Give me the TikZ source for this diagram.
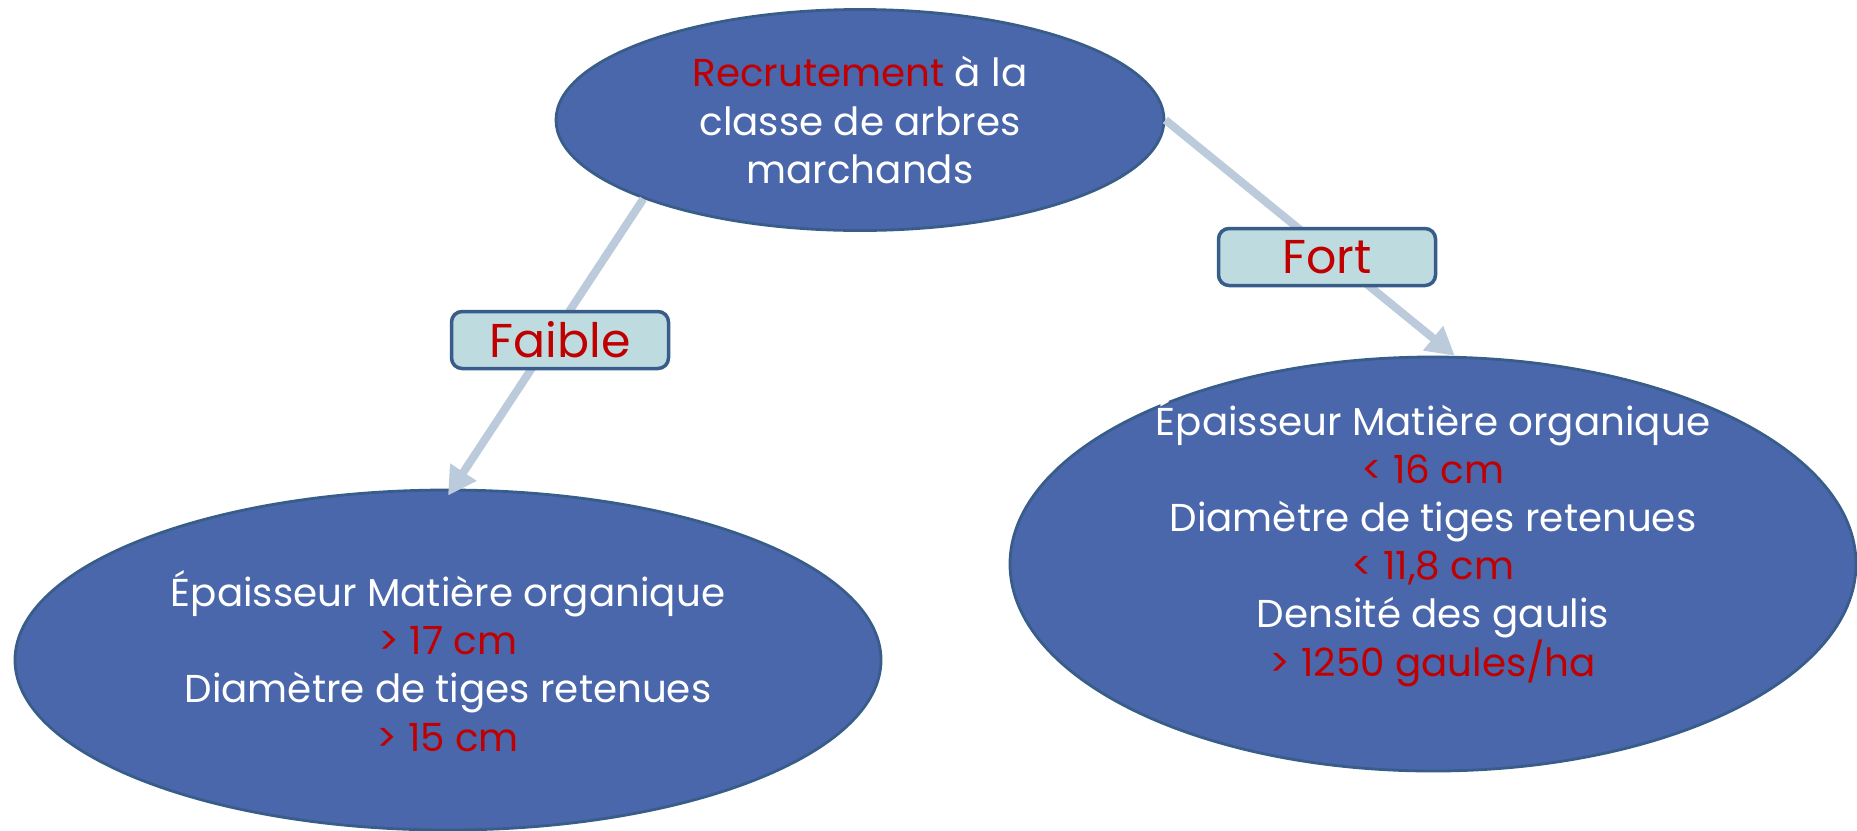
\documentclass[tikz,border=0pt]{standalone}
\usepackage{fontspec}
\setmainfont{Poppins}
\usepackage{xcolor}
\usepackage{tikz}
\usetikzlibrary{arrows.meta, calc, positioning, shapes.geometric}

\definecolor{ovalblue}{RGB}{74,103,172}
\definecolor{ovalline}{RGB}{56,93,138}
\definecolor{tagfill}{RGB}{190,219,223}
\definecolor{linkgray}{RGB}{188,203,220}
\definecolor{critred}{RGB}{192,0,0}

\begin{document}
\begin{tikzpicture}[>=Stealth,
   oval/.style={ellipse,draw=ovalline,line width=0.8pt,fill=ovalblue,inner sep=0pt},
   txt/.style={text=white,align=center,font=\fontsize{11.05}{13.7}\selectfont},
   tag/.style={draw=ovalline,line width=1pt,fill=tagfill,rounded corners=3pt,
               minimum width=2.17cm,minimum height=0.57cm,inner sep=0pt,
               text=critred,font=\fontsize{13.5}{16}\selectfont},
   link/.style={line width=2.3pt,linkgray,-{Triangle[length=8pt,width=8.5pt]}}]
  \useasboundingbox (0,0) rectangle (18.57,8.30);
  % root
  \node[oval,minimum width=6.08cm,minimum height=2.21cm] (top) at (8.60,7.10) {};
  \node[txt] (toptxt) at (top.center)
    {\textcolor{critred}{Recrutement} à la\\classe de arbres\\marchands};
  % low branch
  \node[oval,minimum width=8.66cm,minimum height=3.40cm] (low) at (4.48,1.70) {};
  \node[txt] (lowtxt) at ([yshift=-0.01cm]low.center)
    {Épaisseur Matière organique\\\textcolor{critred}{> 17 cm}\\
     Diamètre de tiges retenues\\\textcolor{critred}{> 15 cm}};
  % high branch
  \node[oval,minimum width=8.46cm,minimum height=4.14cm] (high) at (14.33,2.66) {};
  \node[txt] (hightxt) at ([yshift=0.21cm]high.center)
    {Épaisseur Matière organique\\\textcolor{critred}{< 16 cm}\\
     Diamètre de tiges retenues\\\textcolor{critred}{< 11,8 cm}\\
     Densité des gaulis\\\textcolor{critred}{> 1250 gaules/ha}};
  % links
  \draw[link] (top.200) -- ([yshift=-0.07cm]low.north);
  \draw[link] (top.east) -- (high.84);
  % tags
  \node[tag] (faible) at (5.60,4.90) {Faible};
  \node[tag] (fort) at (13.27,5.73) {Fort};
\end{tikzpicture}
\end{document}
